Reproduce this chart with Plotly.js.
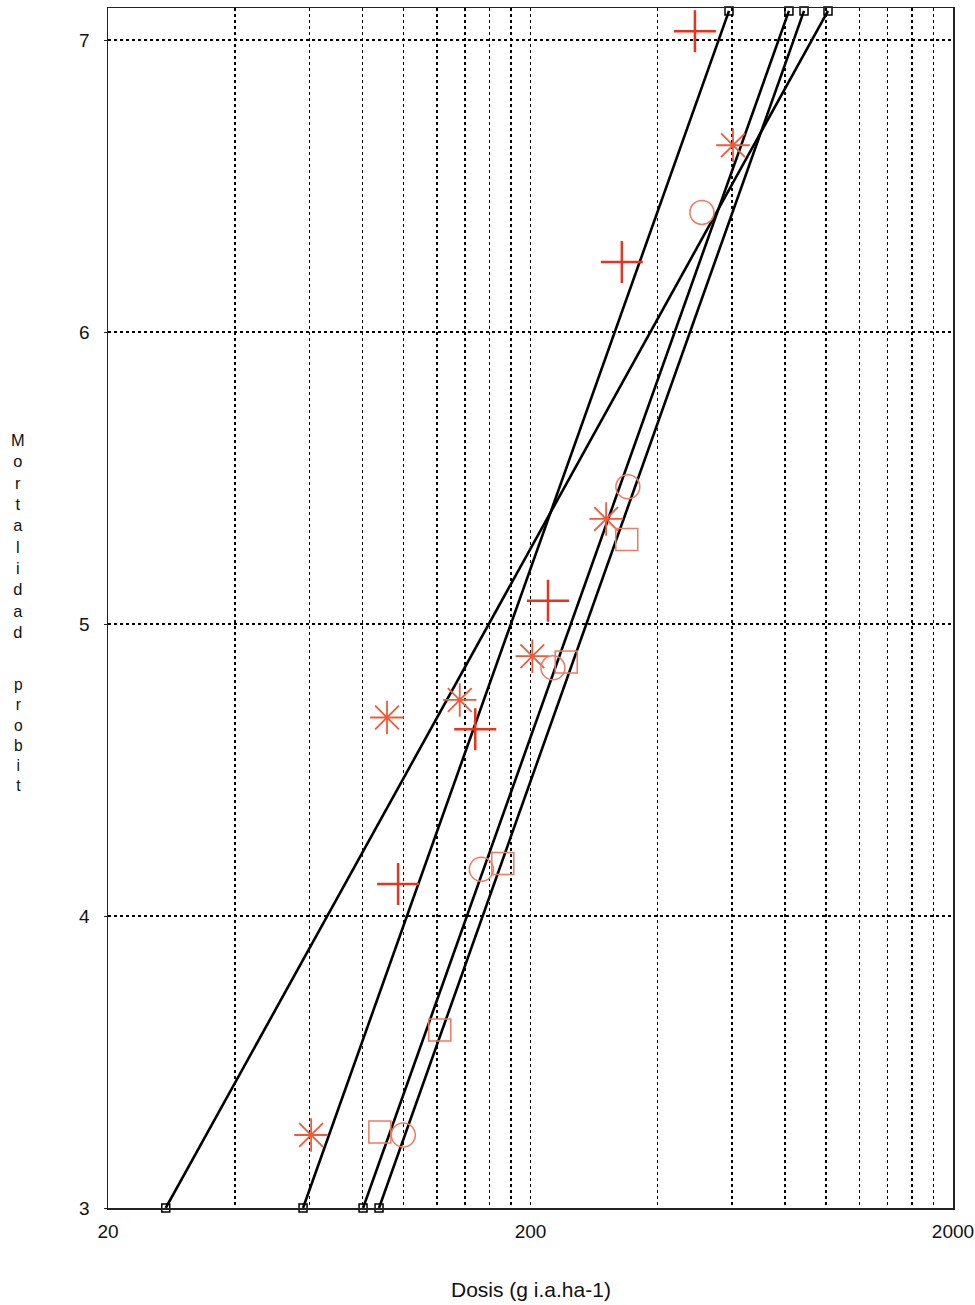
<!DOCTYPE html>
<html>
<head>
<meta charset="utf-8">
<script src="https://cdn.plot.ly/plotly-3.0.1.min.js"></script>
<style>html,body{margin:0;padding:0;background:#fff;}#chart{width:975px;height:1305px;}</style>
</head>
<body>
<div id="chart"></div>
<script>
// Fitted probit lines (endpoints at bottom and top of plot)
const lineA_x = [27.4, 1012];
const lineB_x = [57.9, 590];
const lineC_x = [80.3, 818];
const lineD_x = [87.6, 888];
const line_y = [3, 7.1];

// Observed points
const plus_x = [490, 329, 220, 148, 97.2];
const plus_y = [7.03, 6.24, 5.08, 4.64, 4.11];
const star_x = [603, 302, 202, 136, 91.5, 60.5];
const star_y = [6.64, 5.36, 4.89, 4.74, 4.68, 3.25];
const circ_x = [509, 340, 226, 153, 100];
const circ_y = [6.41, 5.47, 4.85, 4.16, 3.25];
const sq_x = [338, 243, 172, 122, 88];
const sq_y = [5.29, 4.87, 4.18, 3.61, 3.26];

const xTickVals = [20,40,60,80,100,120,140,160,180,200,400,600,800,1000,1200,1400,1600,1800,2000];
const xTickText = ['20','','','','','','','','','200','','','','','','','','','2000'];
const yTickVals = [3,4,5,6,7];
const xTitle = 'Dosis (g i.a.ha-1)';
const yTitleWords = ['Mortalidad', 'probit'];

const lineStyle = {color:'#000', width:2.6};
const endMarker = {symbol:'square-open', size:8, color:'#000', line:{width:1.5, color:'#000'}};

const traces = [
  {x:lineA_x, y:line_y, mode:'lines+markers', line:lineStyle, marker:endMarker, cliponaxis:false},
  {x:lineB_x, y:line_y, mode:'lines+markers', line:lineStyle, marker:endMarker, cliponaxis:false},
  {x:lineC_x, y:line_y, mode:'lines+markers', line:lineStyle, marker:endMarker, cliponaxis:false},
  {x:lineD_x, y:line_y, mode:'lines+markers', line:lineStyle, marker:endMarker, cliponaxis:false},
  {x:plus_x, y:plus_y, mode:'markers', marker:{symbol:'cross-thin-open', size:30, color:'#e8341f', line:{width:2.5, color:'#e8341f'}}, cliponaxis:false},
  {x:star_x, y:star_y, mode:'markers', marker:{symbol:'asterisk-open', size:28, color:'#f05a3a', line:{width:1.8, color:'#f05a3a'}}, cliponaxis:false},
  {x:circ_x, y:circ_y, mode:'markers', marker:{symbol:'circle-open', size:24, color:'#f07a62', line:{width:1.5, color:'#f07a62'}}, cliponaxis:false},
  {x:sq_x, y:sq_y, mode:'markers', marker:{symbol:'square-open', size:22, color:'#f07a62', line:{width:1.5, color:'#f07a62'}}, cliponaxis:false}
];

// Plot area geometry (pixels) used to place the stacked y-title words
const plotTop = 8, plotH = 1200, plotL = 108, plotW = 845;
const stack = s => s.split('').join('<br>');
const wordCenters = [536, 735];
const wordSizes = [16.4, 15.6];
const annotations = [
  {text:xTitle, xref:'paper', yref:'paper', x:0.5, y:-0.068, xanchor:'center', yanchor:'middle', showarrow:false, font:{size:21}}
];
yTitleWords.forEach((w, wi) => {
  annotations.push({text:stack(w), xref:'paper', yref:'paper', x:(18 - plotL) / plotW,
    y:(plotTop + plotH - wordCenters[wi]) / plotH, xanchor:'center', yanchor:'middle',
    showarrow:false, font:{size:wordSizes[wi]}});
});

const layout = {
  width:975, height:1305,
  margin:{l:108, r:22, t:8, b:97},
  paper_bgcolor:'#fff', plot_bgcolor:'#fff',
  showlegend:false,
  font:{family:'Liberation Sans, Arial, sans-serif', size:19, color:'#111'},
  xaxis:{
    type:'log', range:[Math.log10(20), Math.log10(2000)],
    tickmode:'array', tickvals:xTickVals, ticktext:xTickText,
    showgrid:true, gridcolor:'#000', gridwidth:1.5, griddash:'dot',
    showline:true, linecolor:'#222', linewidth:1.5, mirror:true,
    ticks:'', zeroline:false, ticklabelstandoff:6,
    tickfont:{size:19}
  },
  yaxis:{
    range:[3, 7.11],
    tickmode:'array', tickvals:yTickVals,
    showgrid:true, gridcolor:'#000', gridwidth:1.5, griddash:'dot',
    showline:true, linecolor:'#222', linewidth:1.5, mirror:true,
    ticks:'outside', ticklen:3, tickcolor:'#222', zeroline:false, ticklabelstandoff:10,
    tickfont:{size:19}
  },
  annotations:annotations
};

Plotly.newPlot('chart', traces, layout, {displayModeBar:false, staticPlot:true});
</script>
</body>
</html>
